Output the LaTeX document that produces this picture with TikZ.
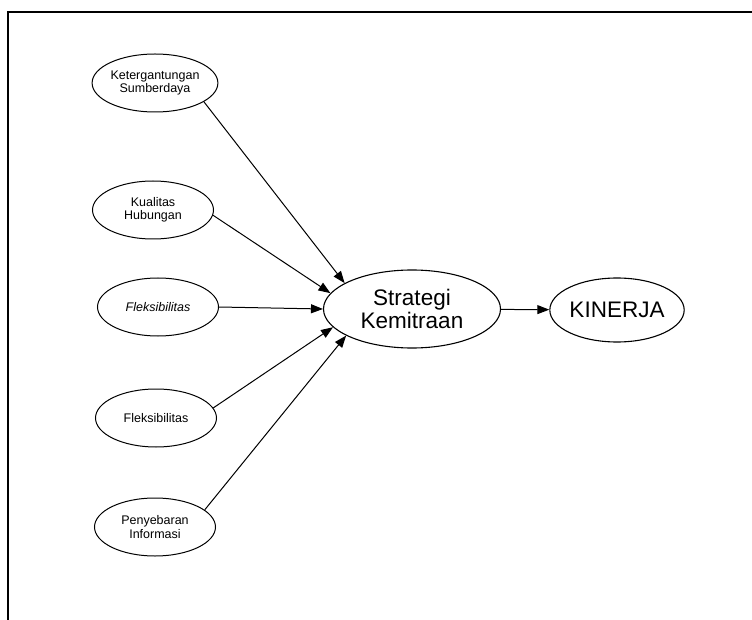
\documentclass[tikz,border=0pt]{standalone}
\usepackage{fontspec}
\setmainfont{Liberation Sans}
\usetikzlibrary{shapes.geometric,arrows.meta}
\begin{document}
\begin{tikzpicture}[x=1pt,y=-1pt,
  small/.style={ellipse,draw,line width=1pt,minimum width=121pt,minimum height=58pt,inner sep=0pt,align=center,font=\fontsize{12.5}{13.5}\selectfont},
  big/.style={ellipse,draw,line width=1.1pt,inner sep=0pt,align=center,font=\fontsize{22.5}{23}\selectfont},
  arr/.style={line width=1pt,-{Triangle[length=12pt,width=9pt]}}]
\useasboundingbox (0,0) rectangle (752,620);
\draw[line width=1.8pt] (8,620) -- (8,12) -- (752,12);
\node[small] (k) at (155,83) {Ketergantungan\\Sumberdaya};
\node[small] (q) at (153,210) {Kualitas\\Hubungan};
\node[small] (fi) at (158,307) {\itshape Fleksibilitas};
\node[small] (f) at (156,418) {Fleksibilitas};
\node[small] (p) at (155,527) {Penyebaran\\Informasi};
\node[big,minimum width=177pt,minimum height=78pt] (s) at (412,309) {Strategi\\Kemitraan};
\node[big,minimum width=127pt,minimum height=64pt] (n) at (617,310) {KINERJA};
\draw[arr] (k.-21) -- (s.159);
\draw[arr] (q.-5) -- (s.169);
\draw[arr] (fi.0) -- (s.180);
\draw[arr] (f.10) -- (s.193);
\draw[arr] (p.19) -- (s.202);
\draw[arr] (s) -- (n);
\end{tikzpicture}
\end{document}
